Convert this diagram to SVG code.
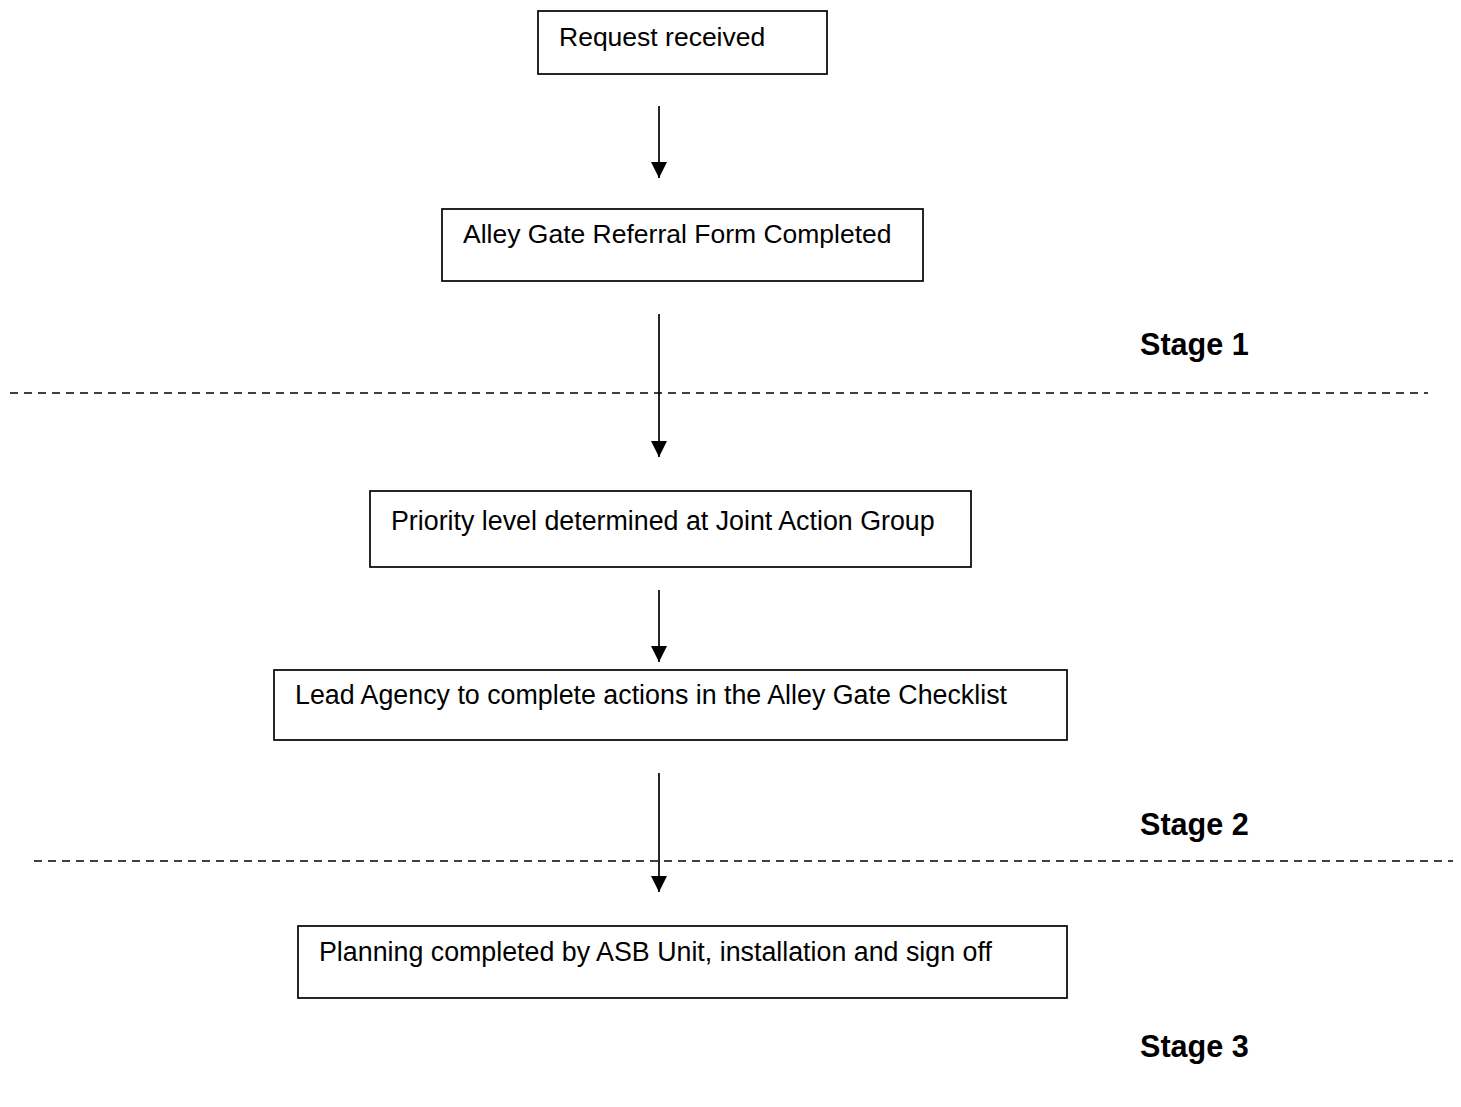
<svg xmlns="http://www.w3.org/2000/svg" width="1461" height="1107" viewBox="0 0 1461 1107">
<style>
.box{fill:#fff;stroke:#000;stroke-width:1.7}
.t{font-family:"Liberation Sans",Arial,sans-serif;font-size:26.5px;fill:#000}
.t2{font-family:"Liberation Sans",Arial,sans-serif;font-size:26.8px;fill:#000}
.st{font-family:"Liberation Sans",Arial,sans-serif;font-size:30.6px;font-weight:bold;fill:#000}
.conn{stroke:#000;stroke-width:1.7;fill:none}
.dash{stroke:#000;stroke-width:1.5;stroke-dasharray:8 6;fill:none}
</style>
<defs>
<marker id="ah" markerUnits="userSpaceOnUse" markerWidth="16" markerHeight="16" viewBox="0 0 16 16" refX="16" refY="8" orient="auto">
<path d="M0,0 L16,8 L0,16 z" fill="#000"/>
</marker>
</defs>
<rect width="1461" height="1107" fill="#fff"/>
<g id="separators">
<line class="dash" x1="10" y1="393" x2="1428" y2="393"/>
<line class="dash" x1="34" y1="861" x2="1453" y2="861"/>
</g>
<g id="connectors">
<line class="conn" x1="659" y1="106" x2="659" y2="178" marker-end="url(#ah)"/>
<line class="conn" x1="659" y1="314" x2="659" y2="457" marker-end="url(#ah)"/>
<line class="conn" x1="659" y1="590" x2="659" y2="662" marker-end="url(#ah)"/>
<line class="conn" x1="659" y1="773" x2="659" y2="892" marker-end="url(#ah)"/>
</g>
<g id="n1"><rect class="box" x="538" y="11" width="289" height="63"/><text class="t" x="559" y="46">Request received</text></g>
<g id="n2"><rect class="box" x="442" y="209" width="481" height="72"/><text class="t" x="463" y="243">Alley Gate Referral Form Completed</text></g>
<g id="n3"><rect class="box" x="370" y="491" width="601" height="76"/><text class="t2" x="391" y="530">Priority level determined at Joint Action Group</text></g>
<g id="n4"><rect class="box" x="274" y="670" width="793" height="70"/><text class="t2" x="295" y="704">Lead Agency to complete actions in the Alley Gate Checklist</text></g>
<g id="n5"><rect class="box" x="298" y="926" width="769" height="72"/><text class="t2" x="319" y="961">Planning completed by ASB Unit, installation and sign off</text></g>
<g id="stages">
<text class="st" x="1140" y="355">Stage 1</text>
<text class="st" x="1140" y="835">Stage 2</text>
<text class="st" x="1140" y="1057">Stage 3</text>
</g>
</svg>
